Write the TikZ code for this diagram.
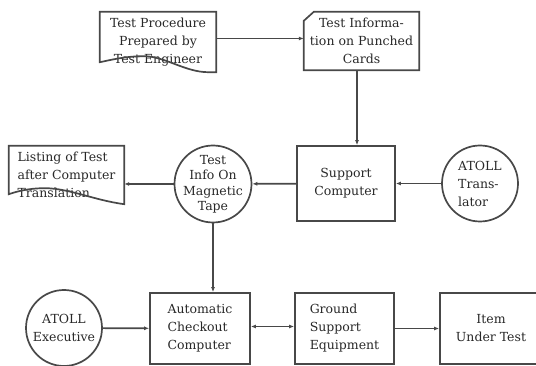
\documentclass[tikz,border=0pt]{standalone}
\usepackage{fontspec}
\setmainfont{DejaVu Serif}
\usetikzlibrary{arrows.meta}
\definecolor{inkgray}{RGB}{72, 72, 72}
\definecolor{textgray}{RGB}{40, 40, 40}

\begin{document}
\begin{tikzpicture}[
    x=1pt, y=-1pt,
    >={Latex[length=5pt,width=4pt]},
    every node/.style={font=\fontsize{12.5}{18}\selectfont, text=textgray},
    line/.style={draw=inkgray, line width=1.7pt},
    block/.style={rectangle, line, inner sep=0pt, align=center},
    blank/.style={rectangle, inner sep=0pt, align=center},
    disk/.style={circle, line, inner sep=0pt, minimum size=76pt},
    flow/.style={line, ->}
]
\useasboundingbox (0,0) rectangle (536,366);

% top row
\node [blank, minimum width=116pt, minimum height=60pt] (proc) at (158,42) {Test Procedure\\Prepared by\\Test Engineer};
\node [blank, minimum width=115pt, minimum height=58pt] (card) at (361.5,41) {Test Informa-\\tion on Punched\\Cards};

% middle row
\node [blank, align=left, minimum width=115pt, minimum height=58pt] (listing) at (66.5,175) {Listing of Test\\after Computer\\Translation};
\node [disk, minimum size=77pt, label={[font=\fontsize{12.5}{15.5}\selectfont, align=center]center:Test\\Info On\\Magnetic\\Tape}] (tape) at (213,184) {};
\node [block, minimum width=98pt, minimum height=75pt] (support) at (346,183.5) {Support\\Computer};
\node [disk, label={[align=left]center:ATOLL\\Trans-\\lator}] (trans) at (480,183.5) {};

% bottom row
\node [disk, label={[align=center]center:ATOLL\\Executive}] (exec) at (64,328) {};
\node [block, align=left, minimum width=100pt, minimum height=71pt] (auto) at (200,328.5) {Automatic\\Checkout\\Computer};
\node [block, align=left, minimum width=99pt, minimum height=71pt] (gse) at (344.5,328.5) {Ground\\Support\\Equipment};
\node [block, minimum width=102pt, minimum height=71pt] (item) at (491,328.5) {Item\\Under Test};

% document and card outlines
\draw [line] (proc.north west) -- (proc.north east) -- (proc.south east) -- ([xshift=-8pt]proc.south east)
    .. controls ([xshift=-31pt]proc.south east) and ([xshift=65pt,yshift=16pt]proc.south west) ..
    ([xshift=44pt,yshift=16pt]proc.south west)
    .. controls ([xshift=25pt,yshift=16pt]proc.south west) and ([xshift=10pt,yshift=12pt]proc.south west) ..
    ([yshift=10pt]proc.south west) -- cycle;
\draw [line] (listing.north west) -- (listing.north east) -- (listing.south east)
    .. controls ([xshift=-30pt,yshift=4pt]listing.south east) and ([xshift=60pt,yshift=16pt]listing.south west) ..
    ([xshift=36pt,yshift=16pt]listing.south west)
    .. controls ([xshift=18pt,yshift=16pt]listing.south west) and ([xshift=6pt,yshift=12pt]listing.south west) ..
    ([yshift=10pt]listing.south west) -- cycle;
\draw [line] ([yshift=-9pt]card.north west) -- ([xshift=10pt]card.north west) -- (card.north east)
    -- (card.south east) -- (card.south west) -- cycle;

% connectors
\draw [flow] ([yshift=3.5pt]proc.east) -- ([yshift=3.5pt]proc.east -| card.west);
\draw [flow] ([xshift=-4.5pt]card.south) -- ([xshift=-4.5pt]card.south |- support.north);
\draw [flow] (trans) -- (support);
\draw [flow] (support) -- (tape);
\draw [flow] (tape.west) -- (tape.west -| listing.east);
\draw [flow] (tape.south) -- (tape.south |- auto.north);
\draw [flow] (exec) -- (auto);
\draw [flow, <->] ([yshift=2pt]auto.east) -- ([yshift=2pt]gse.west);
\draw [flow] (gse) -- (item);
\end{tikzpicture}
\end{document}
